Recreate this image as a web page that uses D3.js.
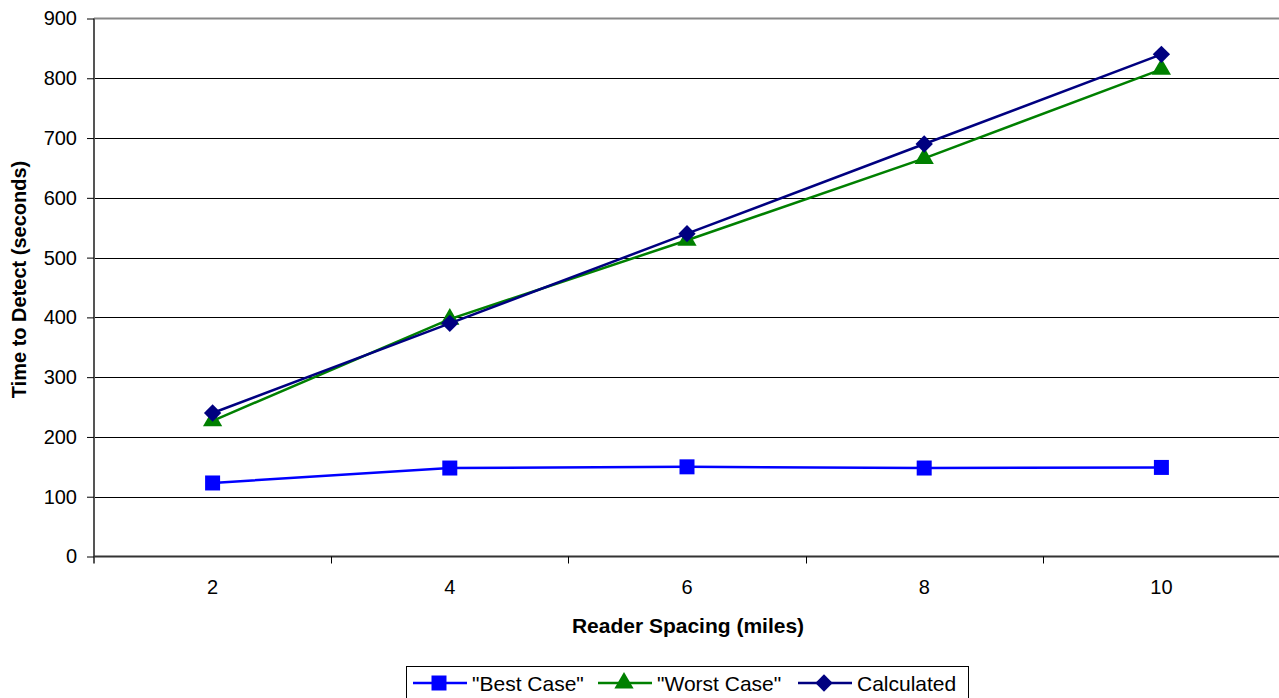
<!DOCTYPE html>
<html>
<head>
<meta charset="utf-8">
<script src="https://cdn.jsdelivr.net/npm/d3@7"></script>
<style>
  html, body { margin: 0; padding: 0; background: #fff; }
  svg { display: block; font-family: "Liberation Sans", Arial, sans-serif; }
</style>
</head>
<body>
<div id="chart"></div>
<script>
// reader spacing vs time to detect
const SPACING = [2, 4, 6, 8, 10];
const BEST_CASE = [123, 148, 150, 148, 149];
const WORST_CASE = [227, 397, 529, 666, 815];
const CALCULATED = [240, 390, 540, 690, 840];
const Y_TICKS = [0, 100, 200, 300, 400, 500, 600, 700, 800, 900];

const W = 1279, H = 698;
const plot = { left: 94, right: 1280, top: 18.5, bottom: 556.5 };
const FONT = "Liberation Sans, Arial, sans-serif";

const svg = d3.select("#chart").append("svg")
    .attr("width", W)
    .attr("height", H);

const x = d3.scaleBand()
    .domain(SPACING)
    .range([plot.left, plot.right]);

const y = d3.scaleLinear()
    .domain([0, 900])
    .range([plot.bottom, plot.top]);

// gridlines
svg.append("g")
    .selectAll("line")
    .data(Y_TICKS.filter(d => d > 0 && d < 900))
    .enter().append("line")
    .attr("x1", plot.left).attr("x2", plot.right)
    .attr("y1", d => Math.round(y(d)) + 0.5)
    .attr("y2", d => Math.round(y(d)) + 0.5)
    .attr("stroke", "#000")
    .attr("stroke-width", 1);

// top border
svg.append("line")
    .attr("x1", plot.left).attr("x2", plot.right)
    .attr("y1", y(900)).attr("y2", y(900))
    .attr("stroke", "#888").attr("stroke-width", 2);

// y axis
const yAxis = svg.append("g")
    .attr("transform", `translate(${plot.left},0)`)
    .call(d3.axisLeft(y).tickValues(Y_TICKS).tickSize(7).tickPadding(10));
yAxis.attr("font-family", FONT).attr("font-size", 20);
yAxis.select(".domain").attr("stroke", "#555").attr("stroke-width", 2)
    .attr("d", `M0,${plot.top}V${plot.bottom + 7}`);
yAxis.selectAll(".tick line").attr("stroke", "#000");
yAxis.selectAll("text").attr("fill", "#000");

// x axis
const xAxis = svg.append("g")
    .attr("transform", `translate(0,${plot.bottom})`)
    .call(d3.axisBottom(x).tickSize(0).tickPadding(23));
xAxis.attr("font-family", FONT).attr("font-size", 20);
xAxis.select(".domain").attr("stroke", "#333").attr("stroke-width", 2)
    .attr("d", `M${plot.left},0H${plot.right}`);
xAxis.selectAll("text").attr("fill", "#000");

// category boundary ticks
const bounds = SPACING.map(d => x(d)).concat([x(SPACING[SPACING.length - 1]) + x.bandwidth()]);
svg.append("g")
    .selectAll("line")
    .data(bounds.slice(1))
    .enter().append("line")
    .attr("x1", d => Math.round(d) + 0.5).attr("x2", d => Math.round(d) + 0.5)
    .attr("y1", plot.bottom).attr("y2", plot.bottom + 7)
    .attr("stroke", "#000");

// axis titles
svg.append("text")
    .attr("x", (plot.left + plot.right) / 2 + 1)
    .attr("y", 633)
    .attr("text-anchor", "middle")
    .style("font-size", "21px")
    .style("font-weight", "bold")
    .text("Reader Spacing (miles)");

svg.append("text")
    .attr("transform", `translate(26,${(plot.top + plot.bottom) / 2 - 8}) rotate(-90)`)
    .attr("text-anchor", "middle")
    .style("font-size", "20px")
    .style("font-weight", "bold")
    .text("Time to Detect (seconds)");

const cx = d => x(d) + x.bandwidth() / 2;

// rotated square marker
const diamond = {
    draw(ctx, size) {
        const r = Math.sqrt(size / 2);
        ctx.moveTo(0, -r);
        ctx.lineTo(r, 0);
        ctx.lineTo(0, r);
        ctx.lineTo(-r, 0);
        ctx.closePath();
    }
};

const series = [
    { name: "\"Best Case\"", values: BEST_CASE, color: "#0000ff", shape: d3.symbolSquare, size: 225 },
    { name: "\"Worst Case\"", values: WORST_CASE, color: "#008000", shape: d3.symbolTriangle, size: 160 },
    { name: "Calculated", values: CALCULATED, color: "#000080", shape: diamond, size: 150 }
];

const line = d3.line()
    .x(d => cx(d.k))
    .y(d => y(d.v));

series.forEach(s => {
    const pts = SPACING.map((k, i) => ({ k: k, v: s.values[i] }));
    svg.append("path")
        .datum(pts)
        .attr("fill", "none")
        .attr("stroke", s.color)
        .attr("stroke-width", 2.5)
        .attr("d", line);
    svg.append("g")
        .selectAll("path")
        .data(pts)
        .enter().append("path")
        .attr("transform", d => `translate(${cx(d.k)},${y(d.v)})`)
        .attr("d", d3.symbol().type(s.shape).size(s.size))
        .attr("fill", s.color);
});

// legend
const legend = svg.append("g");
legend.append("rect")
    .attr("x", 406.5).attr("y", 666.5)
    .attr("width", 562).attr("height", 40)
    .attr("fill", "#fff").attr("stroke", "#000");

const legendX = [413, 598, 798];
series.forEach((s, i) => {
    const lx = legendX[i];
    const ly = 683;
    legend.append("line")
        .attr("x1", lx).attr("x2", lx + 54)
        .attr("y1", ly).attr("y2", ly)
        .attr("stroke", s.color).attr("stroke-width", 2.5);
    legend.append("path")
        .attr("transform", `translate(${lx + 26},${ly})`)
        .attr("d", d3.symbol().type(s.shape).size(s.size))
        .attr("fill", s.color);
    legend.append("text")
        .attr("x", lx + 59)
        .attr("y", 691)
        .style("font-size", "21px")
        .text(s.name);
});
</script>
</body>
</html>
